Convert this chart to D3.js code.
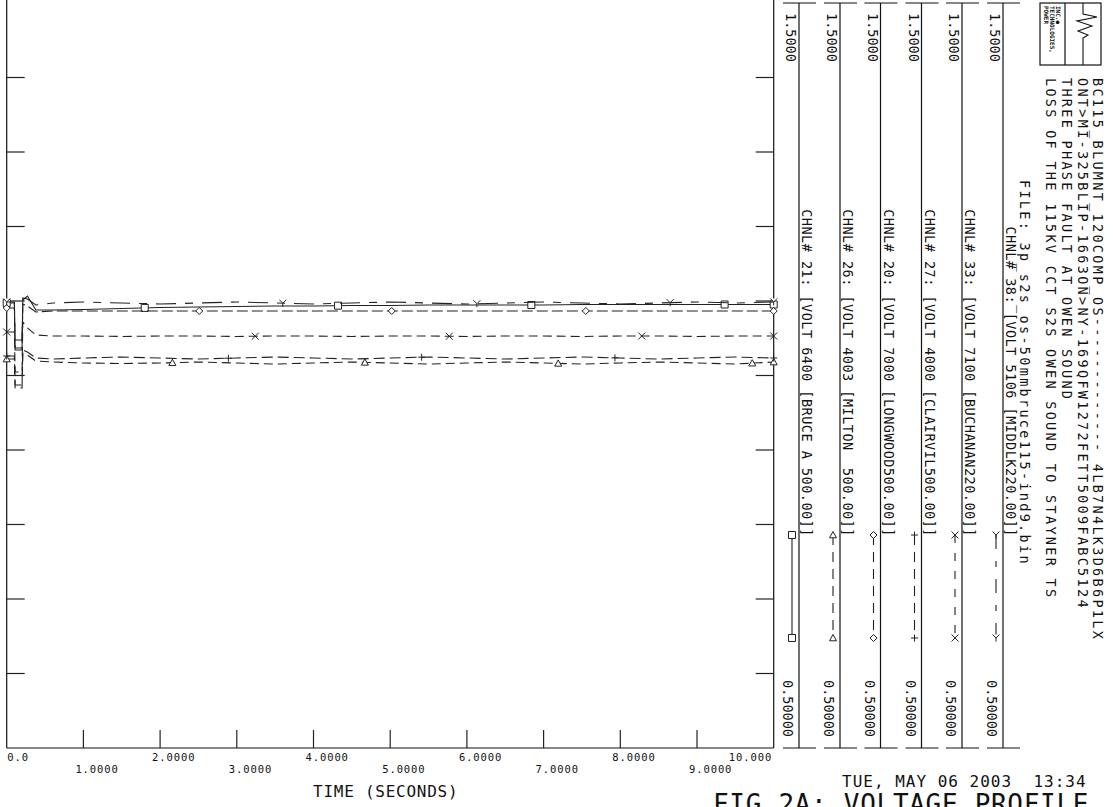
<!DOCTYPE html>
<html>
<head>
<meta charset="utf-8">
<script src="https://cdn.jsdelivr.net/npm/d3@7"></script>
<style>
body { margin: 0; background: #fff; }
text { font-family: "DejaVu Sans Mono", monospace; fill: #111; }
</style>
</head>
<body>
<div id="chart"></div>
<script>
// time points (seconds)
var timeS = [0, 0.1, 0.11, 0.2, 0.21, 0.27, 0.38, 0.6, 1.0, 1.5, 2.0, 2.5, 3.0, 3.5, 4.0, 4.5, 5.0, 5.5, 6.0, 6.5, 7.0, 7.5, 8.0, 8.5, 9.0, 9.5, 10.0];

// bus voltages (pu) per channel
var volt21 = [1.0973, 1.0973, 1.0342, 1.0342, 1.1013, 1.1067, 1.0879, 1.0879, 1.0886, 1.0899, 1.0913, 1.0919, 1.0926, 1.0933, 1.0933, 1.0940, 1.0940, 1.0946, 1.0946, 1.0946, 1.0946, 1.0953, 1.0953, 1.0953, 1.0953, 1.0953, 1.0953];
var volt26 = [1.0221, 1.0221, 0.9832, 0.9832, 1.0302, 1.0275, 1.0195, 1.0181, 1.0168, 1.0161, 1.0168, 1.0181, 1.0168, 1.0154, 1.0168, 1.0181, 1.0168, 1.0154, 1.0168, 1.0181, 1.0168, 1.0154, 1.0168, 1.0181, 1.0168, 1.0154, 1.0181];
var volt20 = [1.0906, 1.0906, 1.0369, 1.0369, 1.0960, 1.0933, 1.0852, 1.0866, 1.0866, 1.0866, 1.0866, 1.0866, 1.0866, 1.0866, 1.0866, 1.0866, 1.0866, 1.0866, 1.0866, 1.0866, 1.0866, 1.0866, 1.0866, 1.0866, 1.0866, 1.0866, 1.0866];
var volt27 = [1.0262, 1.0262, 0.9872, 0.9872, 1.0342, 1.0315, 1.0235, 1.0221, 1.0235, 1.0248, 1.0235, 1.0221, 1.0235, 1.0248, 1.0235, 1.0221, 1.0235, 1.0248, 1.0235, 1.0221, 1.0235, 1.0248, 1.0235, 1.0221, 1.0235, 1.0248, 1.0235];
var volt33 = [1.0584, 1.0584, 1.0047, 1.0047, 1.0718, 1.0638, 1.0544, 1.0530, 1.0530, 1.0524, 1.0530, 1.0530, 1.0524, 1.0530, 1.0530, 1.0524, 1.0530, 1.0530, 1.0524, 1.0530, 1.0530, 1.0524, 1.0530, 1.0530, 1.0524, 1.0530, 1.0530];
var volt38 = [1.0987, 1.0987, 1.0477, 1.0477, 1.1040, 1.1027, 1.0946, 1.0973, 1.0987, 1.0973, 1.0960, 1.0973, 1.0987, 1.0973, 1.0960, 1.0973, 1.0987, 1.0973, 1.0960, 1.0973, 1.0987, 1.0973, 1.0960, 1.0973, 1.0987, 1.0973, 1.0987];

// where the plotter put its symbols (seconds)
var marks21 = [0, 1.80, 4.32, 6.84, 9.36, 10];
var marks26 = [0, 2.16, 4.67, 7.19, 9.72, 10];
var marks20 = [0, 2.51, 5.02, 7.55, 10];
var marks27 = [0, 2.89, 5.41, 7.93, 10];
var marks33 = [0, 3.24, 5.77, 8.28, 10];
var marks38 = [0, 3.60, 6.13, 8.65, 10];

var channelLabels = [
  "CHNL# 21: [VOLT 6400 [BRUCE A 500.00]]",
  "CHNL# 26: [VOLT 4003 [MILTON  500.00]]",
  "CHNL# 20: [VOLT 7000 [LONGWOOD500.00]]",
  "CHNL# 27: [VOLT 4000 [CLAIRVIL500.00]]",
  "CHNL# 33: [VOLT 7100 [BUCHANAN220.00]]",
  "CHNL# 38: [VOLT 5106 [MIDDLK220.00]]"
];
var scaleTop = "1.5000";
var scaleBottom = "0.50000";

var xTicks = [0, 1, 2, 3, 4, 5, 6, 7, 8, 9, 10];
var xTickLabels = ["0.0", "1.0000", "2.0000", "3.0000", "4.0000", "5.0000", "6.0000", "7.0000", "8.0000", "9.0000", "10.000"];
var yTicks = [0.6, 0.7, 0.8, 0.9, 1.0, 1.1, 1.2, 1.3, 1.4];

var headerLines = [
  "BC115_BLUMNT_120COMP_OS------------- 4LB7N4LK3D6B6P1LX",
  "ONT>MI-325BLIP-1663ON>NY-169QFW1272FETT5009FABC5124",
  "THREE PHASE FAULT AT OWEN SOUND",
  "LOSS OF THE 115KV CCT S2S OWEN SOUND TO STAYNER TS",
  "FILE: 3p_s2s_os-50mmbruce115-ind9.bin"
];

var w = 1113, h = 807;
var svg = d3.select("#chart").append("svg")
  .attr("width", w)
  .attr("height", h);

var x = d3.scaleLinear().domain([0, 10]).range([6.7, 773.7]);
var y = d3.scaleLinear().domain([0.5, 1.5]).range([748, 3]);

// marker shapes, hollow like the pen plotter ones
function markerPath(type, s) {
  var p = d3.path();
  if (type == "square") {
    p.rect(-s, -s, 2 * s, 2 * s);
  } else if (type == "triangle") {
    p.moveTo(0, -s); p.lineTo(s, s * 0.8); p.lineTo(-s, s * 0.8); p.closePath();
  } else if (type == "diamond") {
    p.moveTo(0, -s); p.lineTo(s, 0); p.lineTo(0, s); p.lineTo(-s, 0); p.closePath();
  } else if (type == "plus") {
    p.moveTo(-s, 0); p.lineTo(s, 0); p.moveTo(0, -s); p.lineTo(0, s);
  } else if (type == "cross") {
    p.moveTo(-s, -s); p.lineTo(s, s); p.moveTo(s, -s); p.lineTo(-s, s);
  } else if (type == "wye") {
    p.moveTo(-s, -s); p.lineTo(0, 0); p.lineTo(s, -s); p.moveTo(0, 0); p.lineTo(0, s);
  }
  return p.toString();
}

var series = [
  {vals: volt21, marks: marks21, shape: "square", dash: null, legDash: null},
  {vals: volt26, marks: marks26, shape: "triangle", dash: "9,5", legDash: "10,7"},
  {vals: volt20, marks: marks20, shape: "diamond", dash: "11,4", legDash: "10,7"},
  {vals: volt27, marks: marks27, shape: "plus", dash: "11,5", legDash: "10,7"},
  {vals: volt33, marks: marks33, shape: "cross", dash: "9,5", legDash: "8,10"},
  {vals: volt38, marks: marks38, shape: "wye", dash: "20,9,8,9", legDash: "14,12,6,12"}
];

var line = d3.line()
  .x(function(d) { return x(d[0]); })
  .y(function(d) { return y(d[1]); });

// plot frame
var frame = svg.append("g").attr("stroke", "#111").attr("stroke-width", 1.2).attr("fill", "none");
frame.append("line").attr("x1", x(0)).attr("x2", x(0)).attr("y1", 0).attr("y2", 748);
frame.append("line").attr("x1", x(10)).attr("x2", x(10)).attr("y1", 0).attr("y2", 748);
frame.append("line").attr("x1", x(0)).attr("x2", x(10)).attr("y1", 748).attr("y2", 748);

// time ticks, pointing up
svg.append("g").selectAll("line")
  .data(xTicks.slice(1, 10))
  .enter()
  .append("line")
  .attr("x1", function(d) { return x(d); })
  .attr("x2", function(d) { return x(d); })
  .attr("y1", 748)
  .attr("y2", 730)
  .attr("stroke", "#222")
  .attr("stroke-width", 1.2);

// voltage ticks on both sides
var yt = svg.append("g").attr("stroke", "#222").attr("stroke-width", 1.2);
yt.selectAll(".l")
  .data(yTicks)
  .enter()
  .append("line")
  .attr("x1", x(0))
  .attr("x2", x(0) + 18)
  .attr("y1", function(d) { return y(d); })
  .attr("y2", function(d) { return y(d); });
yt.selectAll(".r")
  .data(yTicks)
  .enter()
  .append("line")
  .attr("x1", x(10) - 18)
  .attr("x2", x(10))
  .attr("y1", function(d) { return y(d); })
  .attr("y2", function(d) { return y(d); });

svg.append("g").selectAll("text")
  .data(xTicks)
  .enter()
  .append("text")
  .text(function(d, i) { return xTickLabels[i]; })
  .attr("x", function(d, i) {
    if (i == 0) return x(d) + 0.5;
    if (i == 10) return x(d) - 1.5;
    return x(d) - 8;
  })
  .attr("y", function(d, i) { return i % 2 == 0 ? 760.5 : 773; })
  .attr("text-anchor", function(d, i) { return i == 10 ? "end" : "start"; })
  .attr("font-size", "10.5px")
  .attr("letter-spacing", "0.9px");

svg.append("text")
  .text("TIME (SECONDS)")
  .attr("x", 313)
  .attr("y", 797)
  .attr("font-size", "16px")
  .attr("letter-spacing", "0.75px");

svg.append("text")
  .text("TUE, MAY 06 2003  13:34")
  .attr("x", 842)
  .attr("y", 787)
  .attr("font-size", "16px")
  .attr("letter-spacing", "1px")
  .style("white-space", "pre");

svg.append("text")
  .text("FIG 2A: VOLTAGE PROFILE")
  .attr("x", 713)
  .attr("y", 813)
  .attr("font-size", "26px")
  .attr("letter-spacing", "0.7px");

// curves
var curves = svg.append("g");
series.forEach(function(s) {
  var pts = timeS.map(function(t, i) { return [t, s.vals[i]]; });
  curves.append("path")
    .datum(pts)
    .attr("d", line)
    .attr("fill", "none")
    .attr("stroke", "#222")
    .attr("stroke-width", 1.1)
    .attr("stroke-dasharray", s.dash);

  var interp = d3.scaleLinear().domain(timeS).range(s.vals);
  curves.selectAll(null)
    .data(s.marks)
    .enter()
    .append("path")
    .attr("transform", function(t) {
      return "translate(" + x(t) + "," + y(interp(t)) + ")";
    })
    .attr("d", markerPath(s.shape, 3.5))
    .attr("fill", "#fff")
    .attr("stroke", "#222")
    .attr("stroke-width", 1);
});

// channel legend columns
var colX = [799, 840, 880.5, 921.5, 962, 1003];
var leg = svg.append("g");
colX.forEach(function(cx, i) {
  leg.append("line").attr("x1", cx).attr("x2", cx).attr("y1", 3).attr("y2", 748)
    .attr("stroke", "#111").attr("stroke-width", 1.2);
  leg.append("line").attr("x1", cx - 16).attr("x2", cx + 17).attr("y1", 3).attr("y2", 3)
    .attr("stroke", "#111").attr("stroke-width", 1.2);
  leg.append("line").attr("x1", cx - 16).attr("x2", cx + 17).attr("y1", 748).attr("y2", 748)
    .attr("stroke", "#111").attr("stroke-width", 1.2);

  leg.append("text")
    .text(scaleTop)
    .attr("transform", "translate(" + (cx - 13) + ",13) rotate(90)")
    .attr("font-size", "13.5px");
  leg.append("text")
    .text(scaleBottom)
    .attr("transform", "translate(" + (cx - 16) + ",737) rotate(90)")
    .attr("text-anchor", "end")
    .attr("font-size", "13.5px");
  leg.append("text")
    .text(channelLabels[i])
    .attr("transform", "translate(" + (cx + 3) + ",537) rotate(90)")
    .attr("text-anchor", "end")
    .attr("font-size", "13.5px")
    .attr("letter-spacing", "0.5px")
    .style("white-space", "pre");

  // sample line with its symbols
  var sx = cx - 7;
  leg.append("line").attr("x1", sx).attr("x2", sx).attr("y1", 535).attr("y2", 638)
    .attr("stroke", "#222").attr("stroke-width", 1.1)
    .attr("stroke-dasharray", series[i].legDash);
  [535, 638].forEach(function(my) {
    leg.append("path")
      .attr("transform", "translate(" + sx + "," + my + ")")
      .attr("d", markerPath(series[i].shape, 3.5))
      .attr("fill", "#fff")
      .attr("stroke", "#222");
  });
});

// run header
var hx = [1093, 1078, 1062, 1046, 1020];
var hy = [78, 78, 78, 78, 180];
svg.append("g").selectAll("text")
  .data(headerLines)
  .enter()
  .append("text")
  .text(function(d) { return d; })
  .attr("transform", function(d, i) { return "translate(" + hx[i] + "," + hy[i] + ") rotate(90)"; })
  .attr("font-size", "13.5px")
  .attr("letter-spacing", "2.3px");

// logo box
var logo = svg.append("g");
logo.append("rect").attr("x", 1040).attr("y", 3).attr("width", 61).attr("height", 62)
  .attr("fill", "none").attr("stroke", "#111").attr("stroke-width", 1.2);
logo.append("line").attr("x1", 1065).attr("x2", 1065).attr("y1", 3).attr("y2", 65)
  .attr("stroke", "#111").attr("stroke-width", 1.2);
["POWER", "TECHNOLOGIES,", "INC.\u25CF"].forEach(function(t, i) {
  logo.append("text").text(t)
    .attr("transform", "translate(" + (1044 + i * 6) + ",6) rotate(90)")
    .attr("font-size", "6px")
    .attr("font-weight", "bold");
});
logo.append("path")
  .attr("d", "M1083,3 L1083,14 L1097,17 L1077,21 L1092,26 L1078,31 L1088,35 L1083,38 L1083,65")
  .attr("fill", "none").attr("stroke", "#111").attr("stroke-width", 1.1);
</script>
</body>
</html>
